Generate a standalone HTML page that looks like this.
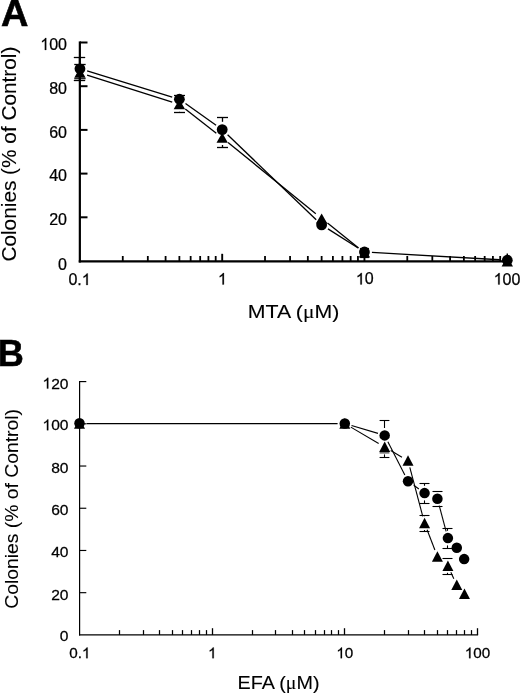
<!DOCTYPE html>
<html><head><meta charset="utf-8"><title>Figure</title>
<style>
html,body{margin:0;padding:0;background:#fff;}
body{width:520px;height:693px;overflow:hidden;font-family:"Liberation Sans",sans-serif;}
svg{display:block;will-change:transform}
svg text{font-family:"Liberation Sans",sans-serif;fill:#000;stroke:#000;stroke-width:0.25px}
svg text.l{stroke-width:0.1px}
svg text.b{stroke-width:0.6px}
</style></head><body>
<svg width="520" height="693" viewBox="0 0 520 693">
<rect width="520" height="693" fill="#fff"/>
<text transform="translate(0.90,25.60) scale(1.04,1)" font-size="36.5" text-anchor="start" font-weight="bold" class="b">A</text>
<line x1="79.85" y1="41.40" x2="79.85" y2="262.50" stroke="#000" stroke-width="2.2" />
<line x1="78.75" y1="261.40" x2="508.50" y2="261.40" stroke="#000" stroke-width="2.2" />
<text transform="translate(58.09,270.00) scale(0.965,1)" font-size="16.6" text-anchor="start">0</text>
<line x1="80.00" y1="217.30" x2="87.50" y2="217.30" stroke="#000" stroke-width="2" />
<text transform="translate(49.19,225.30) scale(0.965,1)" font-size="16.6" text-anchor="start">2</text>
<text transform="translate(58.09,225.30) scale(0.965,1)" font-size="16.6" text-anchor="start">0</text>
<line x1="80.00" y1="173.60" x2="87.50" y2="173.60" stroke="#000" stroke-width="2" />
<text transform="translate(49.19,181.40) scale(0.965,1)" font-size="16.6" text-anchor="start">4</text>
<text transform="translate(58.09,181.40) scale(0.965,1)" font-size="16.6" text-anchor="start">0</text>
<line x1="80.00" y1="129.90" x2="87.50" y2="129.90" stroke="#000" stroke-width="2" />
<text transform="translate(49.19,138.20) scale(0.965,1)" font-size="16.6" text-anchor="start">6</text>
<text transform="translate(58.09,138.20) scale(0.965,1)" font-size="16.6" text-anchor="start">0</text>
<line x1="80.00" y1="86.20" x2="87.50" y2="86.20" stroke="#000" stroke-width="2" />
<text transform="translate(49.19,93.70) scale(0.965,1)" font-size="16.6" text-anchor="start">8</text>
<text transform="translate(58.09,93.70) scale(0.965,1)" font-size="16.6" text-anchor="start">0</text>
<line x1="80.00" y1="42.50" x2="87.50" y2="42.50" stroke="#000" stroke-width="2" />
<path transform="translate(40.28,49.90) scale(0.00782,-0.00811)" d="M763 0H583V1147Q518 1085 412.5 1023T223 930V1104Q373 1175 485.5 1276T645 1472H763Z" fill="#000" stroke="#000" stroke-width="30.8"/>
<text transform="translate(49.19,49.90) scale(0.965,1)" font-size="16.6" text-anchor="start">0</text>
<text transform="translate(58.09,49.90) scale(0.965,1)" font-size="16.6" text-anchor="start">0</text>
<line x1="122.77" y1="256.00" x2="122.77" y2="261.00" stroke="#000" stroke-width="1.8" />
<line x1="147.82" y1="256.00" x2="147.82" y2="261.00" stroke="#000" stroke-width="1.8" />
<line x1="165.59" y1="256.00" x2="165.59" y2="261.00" stroke="#000" stroke-width="1.8" />
<line x1="179.38" y1="256.00" x2="179.38" y2="261.00" stroke="#000" stroke-width="1.8" />
<line x1="190.64" y1="256.00" x2="190.64" y2="261.00" stroke="#000" stroke-width="1.8" />
<line x1="200.17" y1="256.00" x2="200.17" y2="261.00" stroke="#000" stroke-width="1.8" />
<line x1="208.41" y1="256.00" x2="208.41" y2="261.00" stroke="#000" stroke-width="1.8" />
<line x1="215.69" y1="256.00" x2="215.69" y2="261.00" stroke="#000" stroke-width="1.8" />
<line x1="222.20" y1="253.80" x2="222.20" y2="261.00" stroke="#000" stroke-width="1.9" />
<line x1="265.02" y1="256.00" x2="265.02" y2="261.00" stroke="#000" stroke-width="1.8" />
<line x1="290.07" y1="256.00" x2="290.07" y2="261.00" stroke="#000" stroke-width="1.8" />
<line x1="307.84" y1="256.00" x2="307.84" y2="261.00" stroke="#000" stroke-width="1.8" />
<line x1="321.63" y1="256.00" x2="321.63" y2="261.00" stroke="#000" stroke-width="1.8" />
<line x1="332.89" y1="256.00" x2="332.89" y2="261.00" stroke="#000" stroke-width="1.8" />
<line x1="342.42" y1="256.00" x2="342.42" y2="261.00" stroke="#000" stroke-width="1.8" />
<line x1="350.66" y1="256.00" x2="350.66" y2="261.00" stroke="#000" stroke-width="1.8" />
<line x1="357.94" y1="256.00" x2="357.94" y2="261.00" stroke="#000" stroke-width="1.8" />
<line x1="364.45" y1="253.80" x2="364.45" y2="261.00" stroke="#000" stroke-width="1.9" />
<line x1="407.27" y1="256.00" x2="407.27" y2="261.00" stroke="#000" stroke-width="1.8" />
<line x1="432.32" y1="256.00" x2="432.32" y2="261.00" stroke="#000" stroke-width="1.8" />
<line x1="450.09" y1="256.00" x2="450.09" y2="261.00" stroke="#000" stroke-width="1.8" />
<line x1="463.88" y1="256.00" x2="463.88" y2="261.00" stroke="#000" stroke-width="1.8" />
<line x1="475.14" y1="256.00" x2="475.14" y2="261.00" stroke="#000" stroke-width="1.8" />
<line x1="484.67" y1="256.00" x2="484.67" y2="261.00" stroke="#000" stroke-width="1.8" />
<line x1="492.91" y1="256.00" x2="492.91" y2="261.00" stroke="#000" stroke-width="1.8" />
<line x1="500.19" y1="256.00" x2="500.19" y2="261.00" stroke="#000" stroke-width="1.8" />
<text transform="translate(68.43,285.00) scale(1.0,1)" font-size="16.0" text-anchor="start">0</text>
<text transform="translate(77.33,285.00) scale(1.0,1)" font-size="16.0" text-anchor="start">.</text>
<path transform="translate(81.77,285.00) scale(0.00781,-0.00781)" d="M763 0H583V1147Q518 1085 412.5 1023T223 930V1104Q373 1175 485.5 1276T645 1472H763Z" fill="#000" stroke="#000" stroke-width="32.0"/>
<path transform="translate(217.95,284.50) scale(0.00781,-0.00781)" d="M763 0H583V1147Q518 1085 412.5 1023T223 930V1104Q373 1175 485.5 1276T645 1472H763Z" fill="#000" stroke="#000" stroke-width="32.0"/>
<path transform="translate(355.85,284.40) scale(0.00781,-0.00781)" d="M763 0H583V1147Q518 1085 412.5 1023T223 930V1104Q373 1175 485.5 1276T645 1472H763Z" fill="#000" stroke="#000" stroke-width="32.0"/>
<text transform="translate(364.75,284.40) scale(1.0,1)" font-size="16.0" text-anchor="start">0</text>
<path transform="translate(493.66,284.50) scale(0.00781,-0.00781)" d="M763 0H583V1147Q518 1085 412.5 1023T223 930V1104Q373 1175 485.5 1276T645 1472H763Z" fill="#000" stroke="#000" stroke-width="32.0"/>
<text transform="translate(502.55,284.50) scale(1.0,1)" font-size="16.0" text-anchor="start">0</text>
<text transform="translate(511.45,284.50) scale(1.0,1)" font-size="16.0" text-anchor="start">0</text>
<text x="293.50" y="318.20" font-size="19.2" text-anchor="middle" font-weight="normal" class="l" textLength="91.5" lengthAdjust="spacingAndGlyphs">MTA (<tspan font-family="Liberation Serif, serif">μ</tspan>M)</text>
<text class="l" transform="translate(15.6,154.1) rotate(-90)" font-size="19.9" text-anchor="middle" textLength="215" lengthAdjust="spacingAndGlyphs">Colonies (% of Control)</text>
<line x1="87.12" y1="70.99" x2="172.21" y2="97.01" stroke="#000" stroke-width="1.3" />
<line x1="87.10" y1="75.07" x2="172.23" y2="102.03" stroke="#000" stroke-width="1.3" />
<line x1="185.49" y1="103.54" x2="216.08" y2="125.26" stroke="#000" stroke-width="1.3" />
<line x1="185.29" y1="108.92" x2="216.29" y2="133.18" stroke="#000" stroke-width="1.3" />
<line x1="227.61" y1="134.79" x2="316.21" y2="219.71" stroke="#000" stroke-width="1.3" />
<line x1="228.03" y1="142.52" x2="315.80" y2="213.68" stroke="#000" stroke-width="1.3" />
<line x1="327.97" y1="228.91" x2="358.11" y2="247.99" stroke="#000" stroke-width="1.3" />
<line x1="327.49" y1="223.08" x2="358.59" y2="247.92" stroke="#000" stroke-width="1.3" />
<line x1="371.94" y1="252.43" x2="499.81" y2="259.77" stroke="#000" stroke-width="1.3" />
<line x1="79.50" y1="57.50" x2="79.50" y2="80.50" stroke="#000" stroke-width="1.3" />
<line x1="73.80" y1="57.50" x2="85.20" y2="57.50" stroke="#000" stroke-width="1.3" />
<line x1="73.80" y1="80.50" x2="85.20" y2="80.50" stroke="#000" stroke-width="1.3" />
<line x1="74.25" y1="64.50" x2="85.65" y2="64.50" stroke="#000" stroke-width="1.3" />
<line x1="74.25" y1="78.70" x2="85.65" y2="78.70" stroke="#000" stroke-width="1.1" />
<line x1="174.00" y1="95.50" x2="185.00" y2="95.50" stroke="#000" stroke-width="1.3" />
<line x1="174.00" y1="112.50" x2="185.00" y2="112.50" stroke="#000" stroke-width="1.3" />
<line x1="179.50" y1="111.80" x2="179.50" y2="112.50" stroke="#000" stroke-width="1.3" />
<line x1="217.00" y1="117.50" x2="228.00" y2="117.50" stroke="#000" stroke-width="1.3" />
<line x1="222.50" y1="117.50" x2="222.50" y2="121.80" stroke="#000" stroke-width="1.3" />
<line x1="217.00" y1="147.50" x2="228.00" y2="147.50" stroke="#000" stroke-width="1.3" />
<line x1="222.50" y1="145.00" x2="222.50" y2="147.50" stroke="#000" stroke-width="1.3" />
<line x1="364.50" y1="248.50" x2="364.50" y2="257.50" stroke="#000" stroke-width="1.2" />
<line x1="360.10" y1="248.50" x2="368.90" y2="248.50" stroke="#000" stroke-width="1.2" />
<line x1="360.10" y1="257.50" x2="368.90" y2="257.50" stroke="#000" stroke-width="1.2" />
<line x1="507.30" y1="253.50" x2="507.30" y2="256.00" stroke="#000" stroke-width="1.4" />
<polygon points="79.95,67.80 74.25,77.80 85.65,77.80" fill="#000"/>
<polygon points="179.38,99.30 173.68,109.30 185.08,109.30" fill="#000"/>
<polygon points="222.20,132.80 216.50,142.80 227.90,142.80" fill="#000"/>
<polygon points="321.63,213.40 315.93,223.40 327.33,223.40" fill="#000"/>
<polygon points="364.45,247.60 358.75,257.60 370.15,257.60" fill="#000"/>
<polygon points="507.30,256.40 501.60,266.40 513.00,266.40" fill="#000"/>
<circle cx="79.95" cy="68.80" r="5.4" fill="#000"/>
<circle cx="179.38" cy="99.20" r="5.4" fill="#000"/>
<circle cx="222.20" cy="129.60" r="5.4" fill="#000"/>
<circle cx="321.63" cy="224.90" r="5.4" fill="#000"/>
<circle cx="364.45" cy="252.00" r="5.4" fill="#000"/>
<circle cx="507.30" cy="260.20" r="5.4" fill="#000"/>
<text transform="translate(-2.30,365.60) scale(0.99,1)" font-size="36.5" text-anchor="start" font-weight="bold" class="b">B</text>
<line x1="79.60" y1="381.00" x2="79.60" y2="635.50" stroke="#000" stroke-width="1.2" />
<line x1="79.00" y1="634.90" x2="478.10" y2="634.90" stroke="#000" stroke-width="1.3" />
<text transform="translate(59.83,641.30) scale(1.04,1)" font-size="15.0" text-anchor="start">0</text>
<line x1="80.00" y1="592.68" x2="86.30" y2="592.68" stroke="#000" stroke-width="1.15" />
<text transform="translate(51.15,599.68) scale(1.04,1)" font-size="15.0" text-anchor="start">2</text>
<text transform="translate(59.83,599.68) scale(1.04,1)" font-size="15.0" text-anchor="start">0</text>
<line x1="80.00" y1="550.47" x2="86.30" y2="550.47" stroke="#000" stroke-width="1.15" />
<text transform="translate(51.15,557.47) scale(1.04,1)" font-size="15.0" text-anchor="start">4</text>
<text transform="translate(59.83,557.47) scale(1.04,1)" font-size="15.0" text-anchor="start">0</text>
<line x1="80.00" y1="508.25" x2="86.30" y2="508.25" stroke="#000" stroke-width="1.15" />
<text transform="translate(51.15,515.25) scale(1.04,1)" font-size="15.0" text-anchor="start">6</text>
<text transform="translate(59.83,515.25) scale(1.04,1)" font-size="15.0" text-anchor="start">0</text>
<line x1="80.00" y1="466.03" x2="86.30" y2="466.03" stroke="#000" stroke-width="1.15" />
<text transform="translate(51.15,473.03) scale(1.04,1)" font-size="15.0" text-anchor="start">8</text>
<text transform="translate(59.83,473.03) scale(1.04,1)" font-size="15.0" text-anchor="start">0</text>
<line x1="80.00" y1="423.82" x2="86.30" y2="423.82" stroke="#000" stroke-width="1.15" />
<path transform="translate(42.48,430.22) scale(0.00762,-0.00732)" d="M763 0H583V1147Q518 1085 412.5 1023T223 930V1104Q373 1175 485.5 1276T645 1472H763Z" fill="#000" stroke="#000" stroke-width="34.1"/>
<text transform="translate(51.15,430.22) scale(1.04,1)" font-size="15.0" text-anchor="start">0</text>
<text transform="translate(59.83,430.22) scale(1.04,1)" font-size="15.0" text-anchor="start">0</text>
<line x1="80.00" y1="381.60" x2="86.30" y2="381.60" stroke="#000" stroke-width="1.15" />
<path transform="translate(42.48,388.60) scale(0.00762,-0.00732)" d="M763 0H583V1147Q518 1085 412.5 1023T223 930V1104Q373 1175 485.5 1276T645 1472H763Z" fill="#000" stroke="#000" stroke-width="34.1"/>
<text transform="translate(51.15,388.60) scale(1.04,1)" font-size="15.0" text-anchor="start">2</text>
<text transform="translate(59.83,388.60) scale(1.04,1)" font-size="15.0" text-anchor="start">0</text>
<line x1="119.50" y1="630.10" x2="119.50" y2="634.90" stroke="#000" stroke-width="1.25" />
<line x1="143.50" y1="630.10" x2="143.50" y2="634.90" stroke="#000" stroke-width="1.25" />
<line x1="159.50" y1="630.10" x2="159.50" y2="634.90" stroke="#000" stroke-width="1.25" />
<line x1="172.50" y1="630.10" x2="172.50" y2="634.90" stroke="#000" stroke-width="1.25" />
<line x1="182.50" y1="630.10" x2="182.50" y2="634.90" stroke="#000" stroke-width="1.25" />
<line x1="191.50" y1="630.10" x2="191.50" y2="634.90" stroke="#000" stroke-width="1.25" />
<line x1="199.50" y1="630.10" x2="199.50" y2="634.90" stroke="#000" stroke-width="1.25" />
<line x1="206.50" y1="630.10" x2="206.50" y2="634.90" stroke="#000" stroke-width="1.25" />
<line x1="212.50" y1="628.20" x2="212.50" y2="634.90" stroke="#000" stroke-width="1.3" />
<line x1="252.50" y1="630.10" x2="252.50" y2="634.90" stroke="#000" stroke-width="1.25" />
<line x1="275.50" y1="630.10" x2="275.50" y2="634.90" stroke="#000" stroke-width="1.25" />
<line x1="292.50" y1="630.10" x2="292.50" y2="634.90" stroke="#000" stroke-width="1.25" />
<line x1="304.50" y1="630.10" x2="304.50" y2="634.90" stroke="#000" stroke-width="1.25" />
<line x1="315.50" y1="630.10" x2="315.50" y2="634.90" stroke="#000" stroke-width="1.25" />
<line x1="324.50" y1="630.10" x2="324.50" y2="634.90" stroke="#000" stroke-width="1.25" />
<line x1="331.50" y1="630.10" x2="331.50" y2="634.90" stroke="#000" stroke-width="1.25" />
<line x1="338.50" y1="630.10" x2="338.50" y2="634.90" stroke="#000" stroke-width="1.25" />
<line x1="344.50" y1="628.20" x2="344.50" y2="634.90" stroke="#000" stroke-width="1.3" />
<line x1="384.50" y1="630.10" x2="384.50" y2="634.90" stroke="#000" stroke-width="1.25" />
<line x1="408.50" y1="630.10" x2="408.50" y2="634.90" stroke="#000" stroke-width="1.25" />
<line x1="424.50" y1="630.10" x2="424.50" y2="634.90" stroke="#000" stroke-width="1.25" />
<line x1="437.50" y1="630.10" x2="437.50" y2="634.90" stroke="#000" stroke-width="1.25" />
<line x1="447.50" y1="630.10" x2="447.50" y2="634.90" stroke="#000" stroke-width="1.25" />
<line x1="456.50" y1="630.10" x2="456.50" y2="634.90" stroke="#000" stroke-width="1.25" />
<line x1="464.50" y1="630.10" x2="464.50" y2="634.90" stroke="#000" stroke-width="1.25" />
<line x1="471.50" y1="630.10" x2="471.50" y2="634.90" stroke="#000" stroke-width="1.25" />
<line x1="477.50" y1="628.20" x2="477.50" y2="634.90" stroke="#000" stroke-width="1.3" />
<text transform="translate(69.21,658.20) scale(1.03,1)" font-size="14.8" text-anchor="start">0</text>
<text transform="translate(77.68,658.20) scale(1.03,1)" font-size="14.8" text-anchor="start">.</text>
<path transform="translate(81.92,658.20) scale(0.00744,-0.00723)" d="M763 0H583V1147Q518 1085 412.5 1023T223 930V1104Q373 1175 485.5 1276T645 1472H763Z" fill="#000" stroke="#000" stroke-width="34.6"/>
<path transform="translate(208.06,658.20) scale(0.00744,-0.00723)" d="M763 0H583V1147Q518 1085 412.5 1023T223 930V1104Q373 1175 485.5 1276T645 1472H763Z" fill="#000" stroke="#000" stroke-width="34.6"/>
<path transform="translate(336.32,658.20) scale(0.00744,-0.00723)" d="M763 0H583V1147Q518 1085 412.5 1023T223 930V1104Q373 1175 485.5 1276T645 1472H763Z" fill="#000" stroke="#000" stroke-width="34.6"/>
<text transform="translate(344.80,658.20) scale(1.03,1)" font-size="14.8" text-anchor="start">0</text>
<path transform="translate(464.79,658.20) scale(0.00744,-0.00723)" d="M763 0H583V1147Q518 1085 412.5 1023T223 930V1104Q373 1175 485.5 1276T645 1472H763Z" fill="#000" stroke="#000" stroke-width="34.6"/>
<text transform="translate(473.26,658.20) scale(1.03,1)" font-size="14.8" text-anchor="start">0</text>
<text transform="translate(481.74,658.20) scale(1.03,1)" font-size="14.8" text-anchor="start">0</text>
<text x="278.50" y="688.90" font-size="19.2" text-anchor="middle" font-weight="normal" class="l" textLength="82" lengthAdjust="spacingAndGlyphs">EFA (<tspan font-family="Liberation Serif, serif">μ</tspan>M)</text>
<text class="l" transform="translate(18.3,508.9) rotate(-90)" font-size="19.0" text-anchor="middle" textLength="199.6" lengthAdjust="spacingAndGlyphs">Colonies (% of Control)</text>
<line x1="86.50" y1="423.50" x2="337.60" y2="423.50" stroke="#000" stroke-width="1.25" />
<line x1="351.51" y1="425.50" x2="377.98" y2="433.40" stroke="#000" stroke-width="1.1" />
<line x1="350.84" y1="427.14" x2="378.65" y2="443.46" stroke="#000" stroke-width="1.1" />
<line x1="387.86" y1="441.64" x2="404.84" y2="474.96" stroke="#000" stroke-width="1.1" />
<line x1="390.72" y1="450.54" x2="401.98" y2="457.16" stroke="#000" stroke-width="1.1" />
<line x1="413.70" y1="485.29" x2="418.89" y2="489.01" stroke="#000" stroke-width="1.1" />
<line x1="409.81" y1="467.47" x2="422.78" y2="516.43" stroke="#000" stroke-width="1.1" />
<line x1="427.08" y1="529.73" x2="434.90" y2="550.07" stroke="#000" stroke-width="1.1" />
<line x1="439.22" y1="505.56" x2="446.10" y2="531.34" stroke="#000" stroke-width="1.1" />
<line x1="450.87" y1="572.34" x2="453.81" y2="578.66" stroke="#000" stroke-width="1.1" />
<line x1="379.60" y1="420.50" x2="389.40" y2="420.50" stroke="#000" stroke-width="1.1" />
<line x1="384.50" y1="420.50" x2="384.50" y2="428.00" stroke="#000" stroke-width="1.1" />
<line x1="379.60" y1="457.50" x2="389.40" y2="457.50" stroke="#000" stroke-width="1.1" />
<line x1="384.50" y1="454.40" x2="384.50" y2="457.50" stroke="#000" stroke-width="1.1" />
<line x1="379.60" y1="452.90" x2="389.40" y2="452.90" stroke="#000" stroke-width="0.9" />
<line x1="419.50" y1="483.50" x2="429.50" y2="483.50" stroke="#000" stroke-width="1.1" />
<line x1="424.50" y1="483.50" x2="424.50" y2="485.80" stroke="#000" stroke-width="1.1" />
<line x1="419.50" y1="503.50" x2="429.50" y2="503.50" stroke="#000" stroke-width="1.1" />
<line x1="424.50" y1="500.40" x2="424.50" y2="503.50" stroke="#000" stroke-width="1.1" />
<line x1="432.50" y1="491.50" x2="442.50" y2="491.50" stroke="#000" stroke-width="1.1" />
<line x1="432.50" y1="506.50" x2="442.50" y2="506.50" stroke="#000" stroke-width="1.1" />
<line x1="437.50" y1="506.10" x2="437.50" y2="506.50" stroke="#000" stroke-width="1.1" />
<line x1="419.50" y1="515.50" x2="429.50" y2="515.50" stroke="#000" stroke-width="1.1" />
<line x1="424.50" y1="515.50" x2="424.50" y2="516.20" stroke="#000" stroke-width="1.1" />
<line x1="419.50" y1="531.50" x2="429.50" y2="531.50" stroke="#000" stroke-width="1.1" />
<line x1="424.50" y1="530.00" x2="424.50" y2="531.50" stroke="#000" stroke-width="1.1" />
<line x1="442.50" y1="528.50" x2="452.50" y2="528.50" stroke="#000" stroke-width="1.1" />
<line x1="447.50" y1="528.50" x2="447.50" y2="530.80" stroke="#000" stroke-width="1.1" />
<line x1="442.50" y1="548.50" x2="452.50" y2="548.50" stroke="#000" stroke-width="1.1" />
<line x1="447.50" y1="545.40" x2="447.50" y2="548.50" stroke="#000" stroke-width="1.1" />
<line x1="442.50" y1="558.50" x2="452.50" y2="558.50" stroke="#000" stroke-width="1.1" />
<line x1="447.50" y1="558.50" x2="447.50" y2="559.00" stroke="#000" stroke-width="1.1" />
<line x1="442.50" y1="574.50" x2="452.50" y2="574.50" stroke="#000" stroke-width="1.1" />
<line x1="447.50" y1="572.80" x2="447.50" y2="574.50" stroke="#000" stroke-width="1.1" />
<polygon points="79.50,418.20 74.00,428.70 85.00,428.70" fill="#000"/>
<polygon points="344.80,418.20 339.30,428.70 350.30,428.70" fill="#000"/>
<polygon points="384.69,441.60 379.19,452.10 390.19,452.10" fill="#000"/>
<polygon points="408.02,455.30 402.52,465.80 413.52,465.80" fill="#000"/>
<polygon points="424.57,517.80 419.07,528.30 430.07,528.30" fill="#000"/>
<polygon points="437.41,551.20 431.91,561.70 442.91,561.70" fill="#000"/>
<polygon points="447.91,560.60 442.41,571.10 453.41,571.10" fill="#000"/>
<polygon points="456.78,579.60 451.28,590.10 462.28,590.10" fill="#000"/>
<polygon points="464.46,588.60 458.96,599.10 469.96,599.10" fill="#000"/>
<circle cx="79.50" cy="423.30" r="5.25" fill="#000"/>
<circle cx="344.80" cy="423.50" r="5.25" fill="#000"/>
<circle cx="384.69" cy="435.40" r="5.25" fill="#000"/>
<circle cx="408.02" cy="481.20" r="5.25" fill="#000"/>
<circle cx="424.57" cy="493.10" r="5.25" fill="#000"/>
<circle cx="437.41" cy="498.80" r="5.25" fill="#000"/>
<circle cx="447.91" cy="538.10" r="5.25" fill="#000"/>
<circle cx="456.78" cy="547.80" r="5.25" fill="#000"/>
<circle cx="464.16" cy="559.10" r="5.25" fill="#000"/>
</svg>
</body></html>
